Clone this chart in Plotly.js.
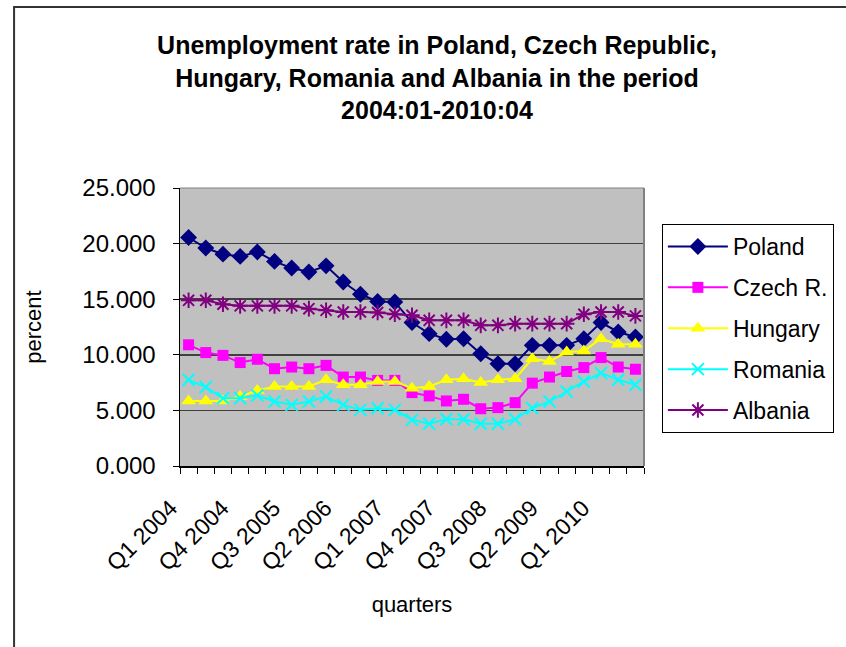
<!DOCTYPE html>
<html>
<head>
<meta charset="utf-8">
<script src="https://cdn.plot.ly/plotly-3.0.1.min.js"></script>
<style>
  html, body { margin: 0; padding: 0; background: #ffffff; }
  #chart { width: 846px; height: 647px; }
</style>
</head>
<body>
<div id="chart"></div>
<script>
// ---- data ----
const categories = [
  'Q1 2004','Q2 2004','Q3 2004','Q4 2004',
  'Q1 2005','Q2 2005','Q3 2005','Q4 2005',
  'Q1 2006','Q2 2006','Q3 2006','Q4 2006',
  'Q1 2007','Q2 2007','Q3 2007','Q4 2007',
  'Q1 2008','Q2 2008','Q3 2008','Q4 2008',
  'Q1 2009','Q2 2009','Q3 2009','Q4 2009',
  'Q1 2010','Q2 2010','Q3 2010'
];
const tickLabels = ['Q1 2004','Q4 2004','Q3 2005','Q2 2006','Q1 2007','Q4 2007','Q3 2008','Q2 2009','Q1 2010'];

const poland  = [20.55, 19.6, 19.05, 18.85, 19.25, 18.4, 17.8, 17.45, 18.0, 16.55, 15.45, 14.8, 14.75,
                 12.9, 11.9, 11.4, 11.45, 10.1, 9.2, 9.2, 10.85, 10.85, 10.85, 11.45, 12.9, 12.05, 11.6];
const czech   = [10.9, 10.2, 9.95, 9.3, 9.6, 8.75, 8.9, 8.75, 9.05, 8.0, 8.0, 7.7, 7.7,
                 6.6, 6.3, 5.85, 6.0, 5.15, 5.25, 5.7, 7.45, 8.0, 8.5, 8.85, 9.75, 8.9, 8.7];
const hungary = [5.85, 5.85, 5.85, 6.25, 6.8, 7.15, 7.15, 7.15, 7.75, 7.3, 7.3, 7.6, 7.6,
                 7.0, 7.15, 7.75, 7.85, 7.5, 7.75, 7.85, 9.65, 9.4, 10.25, 10.35, 11.45, 10.95, 10.95];
const romania = [7.75, 7.1, 6.1, 6.1, 6.35, 5.8, 5.5, 5.8, 6.25, 5.5, 5.05, 5.2, 5.05,
                 4.15, 3.8, 4.2, 4.2, 3.8, 3.8, 4.2, 5.2, 5.8, 6.7, 7.6, 8.35, 7.75, 7.3];
const albania = [14.9, 14.9, 14.55, 14.4, 14.4, 14.4, 14.4, 14.15, 14.0, 13.85, 13.85, 13.8, 13.65,
                 13.55, 13.1, 13.1, 13.1, 12.65, 12.65, 12.8, 12.8, 12.8, 12.8, 13.65, 13.85, 13.85, 13.5];

const seriesNames = ['Poland', 'Czech R.', 'Hungary', 'Romania', 'Albania'];

// ---- build ----
const xIdx = categories.map((c, i) => i);
const tickIdx = tickLabels.map(l => categories.indexOf(l));

const styles = [
  {color: '#000080', symbol: 'diamond', size: 13, lw: 2},
  {color: '#FF00FF', symbol: 'square', size: 11, lw: 2},
  {color: '#FFFF00', symbol: 'triangle-up', size: 13, lw: 2},
  {color: '#00FFFF', symbol: 'x-thin-open', size: 12, lw: 2},
  {color: '#800080', symbol: 'asterisk-open', size: 13, lw: 2}
];
const values = [poland, czech, hungary, romania, albania];

const traces = values.map((v, k) => ({
  type: 'scatter',
  mode: 'lines+markers',
  name: seriesNames[k],
  legendgroup: 'g' + k,
  x: xIdx,
  y: v,
  text: categories,
  hovertemplate: '%{text}: %{y:.3f}<extra>' + seriesNames[k] + '</extra>',
  line: {color: styles[k].color, width: styles[k].lw},
  marker: {
    symbol: styles[k].symbol,
    size: styles[k].size,
    color: styles[k].color,
    line: {color: styles[k].color, width: (k >= 3 ? 2 : 0)}
  }
}));

// plot area in pixels
const W = 846, H = 647;
const L = 180, R = 647, T = 188, B = 466;
const pw = R - L, ph = B - T;
const px = v => (v - L) / pw;
const py = v => (B - v) / ph;

const layout = {
  width: W, height: H,
  paper_bgcolor: '#ffffff',
  plot_bgcolor: '#C0C0C0',
  margin: {l: L, r: W - R, t: T, b: H - B, pad: 0},
  font: {family: 'Liberation Sans, Arial, sans-serif', color: '#000000', size: 22},
  title: {
    text: 'Unemployment rate in Poland, Czech Republic,<br>Hungary, Romania and Albania in the period<br>2004:01-2010:04',
    font: {family: 'Liberation Sans, Arial, sans-serif', size: 25, weight: 'bold', color: '#000000'},
    x: 437 / W, xanchor: 'center', xref: 'container',
    y: 1 - 54 / H, yanchor: 'top', yref: 'container'
  },
  xaxis: {
    type: 'linear',
    range: [-0.5, categories.length - 0.5],
    tickmode: 'array',
    tickvals: tickIdx,
    ticktext: tickLabels,
    tickangle: -45,
    ticks: '',
    ticklabelstandoff: 18,
    ticklabelshift: -18,
    tickfont: {size: 23},
    showgrid: false,
    zeroline: false,
    showline: true,
    linecolor: '#000000',
    linewidth: 1.5,
    minor: {tick0: -0.5, dtick: 1, ticks: 'outside', ticklen: 6, tickcolor: '#000000', tickwidth: 1, showgrid: false},
    title: {text: 'quarters', font: {size: 22}, standoff: 22},
    fixedrange: true
  },
  yaxis: {
    range: [0, 25],
    dtick: 5,
    tick0: 0,
    tickformat: '.3f',
    ticks: 'outside',
    ticklen: 6,
    tickcolor: '#000000',
    ticklabelstandoff: 12,
    tickfont: {size: 24},
    showgrid: true,
    gridcolor: '#404040',
    gridwidth: 1.5,
    zeroline: false,
    showline: true,
    linecolor: '#000000',
    linewidth: 1.5,
    title: {text: 'percent', font: {size: 22}, standoff: 34},
    fixedrange: true
  },
  legend: {
    x: px(665), xanchor: 'left',
    y: py(224), yanchor: 'top',
    bgcolor: '#ffffff',
    bordercolor: '#000000',
    borderwidth: 1,
    font: {size: 23},
    traceorder: 'grouped',
    tracegroupgap: 8,
    itemwidth: 60
  },
  shapes: [
    // plot area right and top edges
    {type: 'line', xref: 'paper', yref: 'paper', x0: 1, x1: 1, y0: 0, y1: 1, line: {color: '#808080', width: 2}},
    {type: 'line', xref: 'paper', yref: 'paper', x0: 0, x1: 1, y0: 1, y1: 1, line: {color: '#808080', width: 1}},
    // chart area border
    {type: 'rect', xref: 'paper', yref: 'paper', layer: 'below',
     x0: px(13), x1: px(900), y0: py(700), y1: py(7),
     line: {color: '#333333', width: 2}, fillcolor: 'rgba(0,0,0,0)'}
  ],
  showlegend: true
};

Plotly.newPlot('chart', traces, layout, {displayModeBar: false, staticPlot: true});
</script>
</body>
</html>
